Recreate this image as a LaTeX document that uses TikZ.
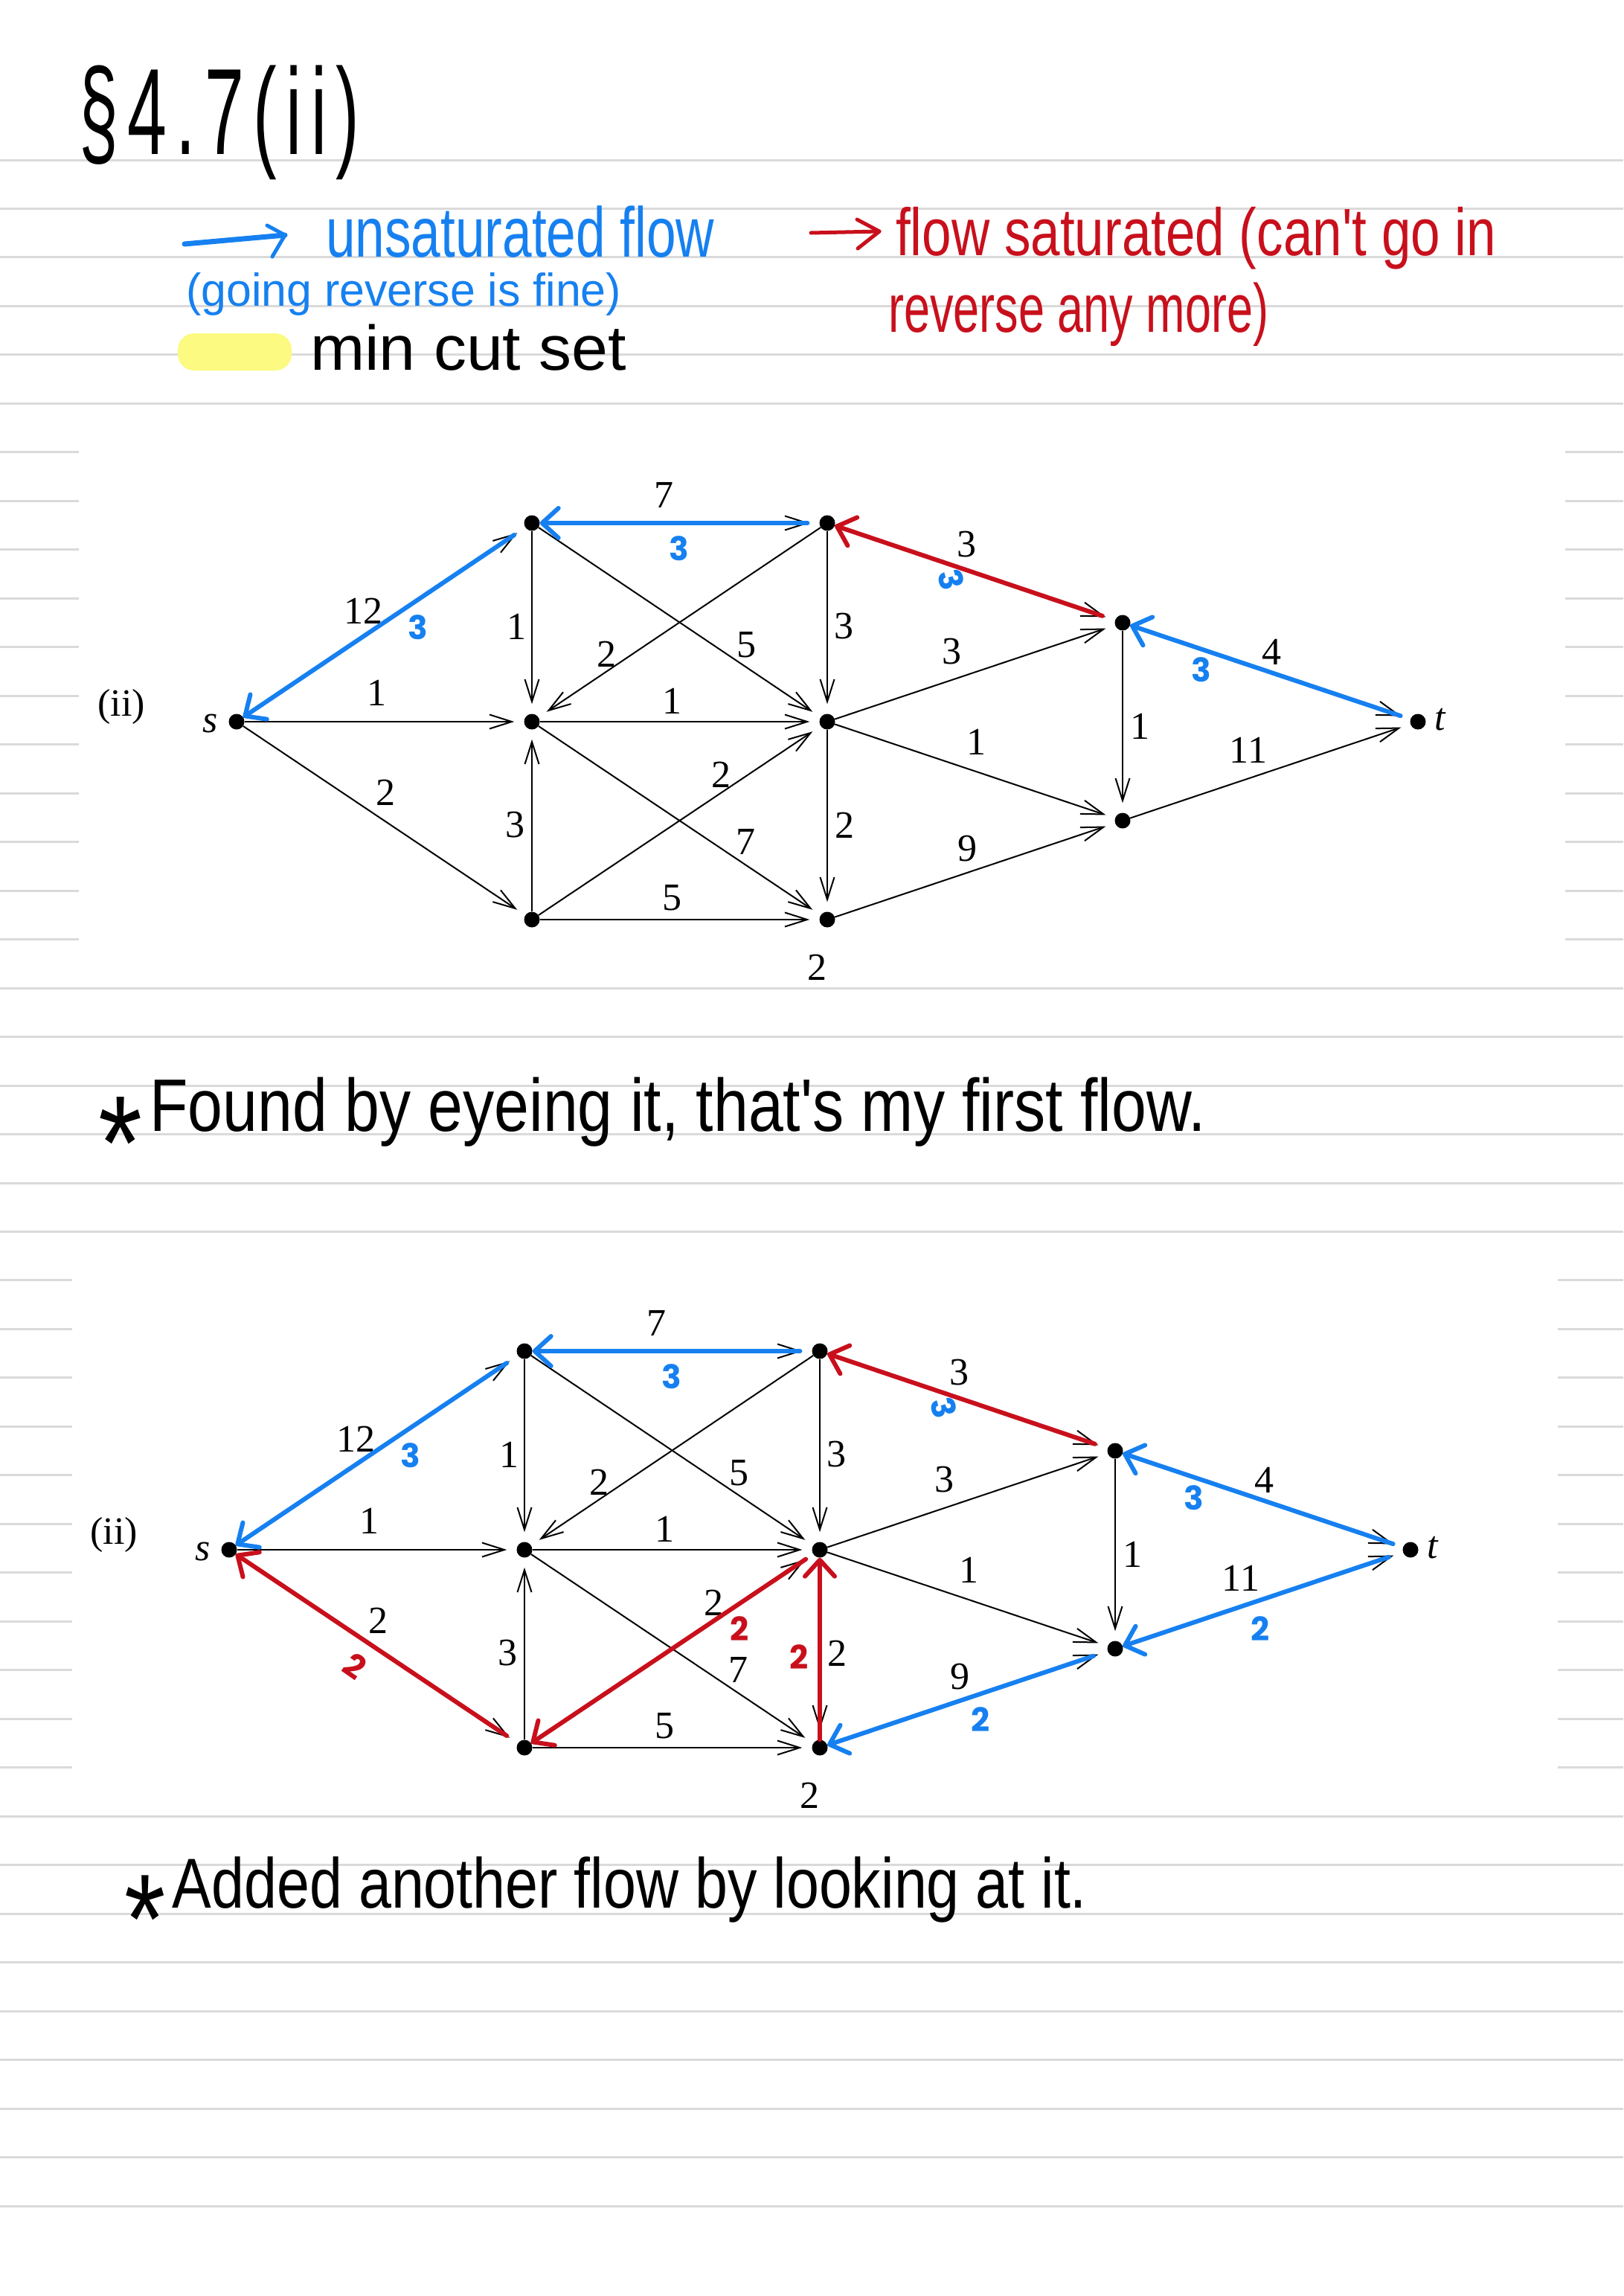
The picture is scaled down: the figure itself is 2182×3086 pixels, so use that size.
\documentclass[tikz,border=0pt]{standalone}
\usepackage{fontspec}
\usepackage{graphicx}
\usetikzlibrary{arrows.meta}
\setmainfont{Liberation Serif}
\newfontfamily\hwfont{Liberation Sans}
\newfontfamily\serfont{Liberation Serif}
\newfontfamily\flowfont{Poppins}
\definecolor{fblue}{RGB}{22,128,240}
\definecolor{fred}{RGB}{200,16,28}
\definecolor{rulegray}{RGB}{218,218,218}
\definecolor{hlyellow}{RGB}{252,250,128}
\newcommand{\hw}[3]{\resizebox{#1pt}{\height}{\fontsize{#2}{#2}\selectfont\hwfont #3}}
\newcommand{\bigast}{\raisebox{-.78em}{\scalebox{1.8}{*}}\kern.12em}
\newcommand{\tk}{\kern.13em}
\tikzset{
  vert/.style={circle, fill=black, inner sep=0pt, minimum size=21pt},
  edge/.style={draw=black, line width=2pt, shorten >=13pt, -{Straight Barb[length=30pt,width=19pt]}},
  caplab/.style={font=\fontsize{52}{52}\selectfont\serfont, inner sep=0pt},
  flowB/.style={draw=fblue, line width=6pt, line cap=round, -{Straight Barb[length=22pt,width=40pt,round]}},
  flowR/.style={draw=fred, line width=6pt, line cap=round, -{Straight Barb[length=22pt,width=40pt,round]}},
  flab/.style={font=\fontsize{44}{44}\selectfont\flowfont\bfseries, inner sep=0pt},
  hwtext/.style={inner sep=0pt, anchor=base west},
  rule/.style={draw=rulegray, line width=3pt},
  legend/.style={line width=6pt, line cap=round, line join=round},
}
\newcommand{\drawnet}{%
  \node[vert] (s) at (318,970) {};
  \node[vert] (A) at (715,703) {};
  \node[vert] (B) at (715,970) {};
  \node[vert] (C) at (715,1236) {};
  \node[vert] (D) at (1112,703) {};
  \node[vert] (E) at (1112,970) {};
  \node[vert] (F) at (1112,1236) {};
  \node[vert] (G) at (1509,837) {};
  \node[vert] (H) at (1509,1103) {};
  \node[vert] (t) at (1906,970) {};
  \node[caplab] (ls) at (283,972) {\itshape s};
  \node[caplab] (lt) at (1936,967) {\itshape t};
  \node[caplab] (lii) at (163,950) {(ii)};
  \draw[edge] (s) -- (A);
  \draw[edge] (s) -- (B);
  \draw[edge] (s) -- (C);
  \draw[edge] (A) -- (D);
  \draw[edge] (A) -- (B);
  \draw[edge] (A) -- (E);
  \draw[edge] (D) -- (B);
  \draw[edge] (D) -- (E);
  \draw[edge] (B) -- (E);
  \draw[edge] (C) -- (B);
  \draw[edge] (B) -- (F);
  \draw[edge] (C) -- (E);
  \draw[edge] (C) -- (F);
  \draw[edge] (E) -- (F);
  \draw[edge] (D) -- (G);
  \draw[edge] (E) -- (G);
  \draw[edge] (E) -- (H);
  \draw[edge] (G) -- (H);
  \draw[edge] (G) -- (t);
  \draw[edge] (H) -- (t);
  \draw[edge] (F) -- (H);
  \node[caplab] (csA) at (488,821) {12};
  \node[caplab] (csB) at (506,931) {1};
  \node[caplab] (csC) at (518,1065) {2};
  \node[caplab] (cAD) at (892,665) {7};
  \node[caplab] (cAB) at (694,842) {1};
  \node[caplab] (cAE) at (1003,867) {5};
  \node[caplab] (cDB) at (815,879) {2};
  \node[caplab] (cDE) at (1134,842) {3};
  \node[caplab] (cBE) at (903,942) {1};
  \node[caplab] (cCB) at (692,1109) {3};
  \node[caplab] (cBF) at (1002,1131) {7};
  \node[caplab] (cCE) at (969,1041) {2};
  \node[caplab] (cCF) at (903,1207) {5};
  \node[caplab] (cEF) at (1135,1109) {2};
  \node[caplab] (cF) at (1098,1300) {2};
  \node[caplab] (cDG) at (1299,732) {3};
  \node[caplab] (cEG) at (1279,876) {3};
  \node[caplab] (cEH) at (1312,997) {1};
  \node[caplab] (cGH) at (1532,976) {1};
  \node[caplab] (cGt) at (1709,876) {4};
  \node[caplab] (cHt) at (1678,1008) {11};
  \node[caplab] (cFH) at (1300,1141) {9};
}
\newcommand{\flowone}{%
  \draw[flowB, shorten <=18pt] (A) -- (s);
  \draw[flowB, shorten <=16pt] (D) -- (A);
  \draw[flowR, shorten <=18pt] (G) -- (D);
  \draw[flowB, shorten <=14pt] (t) -- (G);
  \node[flab, text=fblue] (fsA) at (562,843) {3};
  \node[flab, text=fblue] (fAD) at (913,737) {3};
  \node[flab, text=fblue, rotate=-75] (fDG) at (1279,779) {3};
  \node[flab, text=fblue] (fGt) at (1615,900) {3};
}
\newcommand{\flowtwo}{%
  \draw[flowR, shorten <=18pt] (C) -- (s);
  \draw[flowR, shorten <=12pt] (E) -- (C);
  \draw[flowR] (F) -- (E);
  \draw[flowB, shorten <=20pt] (H) -- (F);
  \draw[flowB, shorten <=20pt] (t) -- (H);
  \node[flab, text=fred, rotate=-35] (fsC) at (487,1126) {2};
  \node[flab, text=fred] (fCE) at (1004,1076) {2};
  \node[flab, text=fred] (fEF) at (1084,1114) {2};
  \node[flab, text=fblue] (fFH) at (1328,1198) {2};
  \node[flab, text=fblue] (fHt) at (1704,1076) {2};
}
\begin{document}
\begin{tikzpicture}[x=1pt, y=-1pt]
  \fill[white] (0,0) rectangle (2182,3086);
  \useasboundingbox (0,0) rectangle (2182,3086);
  % ruled paper
  \foreach \k in {0,...,42} {
    \draw[rule] (0,{215+65.476*\k}) -- (2182,{215+65.476*\k});
  }
  % pasted figure backgrounds
  \fill[white] (106,575) rectangle (2104,1320);
  \fill[white] (97,1690) rectangle (2094,2435);
  % header
  \node[hwtext] (title) at (106,207) {\hw{377}{165}{§\tk4\tk.\tk7\tk(\tk i\tk i\tk)}};
  % legend
  \coordinate (lb1) at (248,328);
  \coordinate (lb2) at (383,316);
  \coordinate (lb3) at (359,303);
  \coordinate (lb4) at (366,345);
  \draw[legend, fblue, line width=7pt] (lb1) -- (lb2);
  \draw[legend, fblue, line width=5pt] (lb3) -- (lb2) -- (lb4);
  \node[hwtext, text=fblue] (unsat) at (438,345) {\hw{522}{95}{unsaturated flow}};
  \node[hwtext, text=fblue] (going) at (250,411) {\hw{585}{62}{(going reverse is fine)}};
  \fill[hlyellow, rounded corners=22pt] (239,448) rectangle (392,498);
  \node[hwtext] (mincut) at (417,497) {\hw{425}{85}{min cut set}};
  \coordinate (lr1) at (1090,313);
  \coordinate (lr2) at (1182,311);
  \coordinate (lr3) at (1152,295);
  \coordinate (lr4) at (1153,334);
  \draw[legend, fred, line width=5pt] (lr1) -- (lr2);
  \draw[legend, fred, line width=5pt] (lr3) -- (lr2) -- (lr4);
  \node[hwtext, text=fred] (sat1) at (1204,343) {\hw{807}{90}{flow saturated (can't go in}};
  \node[hwtext, text=fred] (sat2) at (1194,446) {\hw{511}{92}{reverse any more)}};
  % graphs
  \begin{scope}[name prefix=g1-]
    \drawnet
    \flowone
  \end{scope}
  \begin{scope}[shift={(-10,1113)}, name prefix=g2-]
    \drawnet
    \flowone
    \flowtwo
  \end{scope}
  % comments
  \node[hwtext] (note1) at (132,1520) {\hw{1489}{100}{\bigast Found by eyeing it, that's my first flow.}};
  \node[hwtext] (note2) at (167,2564) {\hw{1294}{95}{\bigast Added another flow by looking at it.}};
\end{tikzpicture}
\end{document}
